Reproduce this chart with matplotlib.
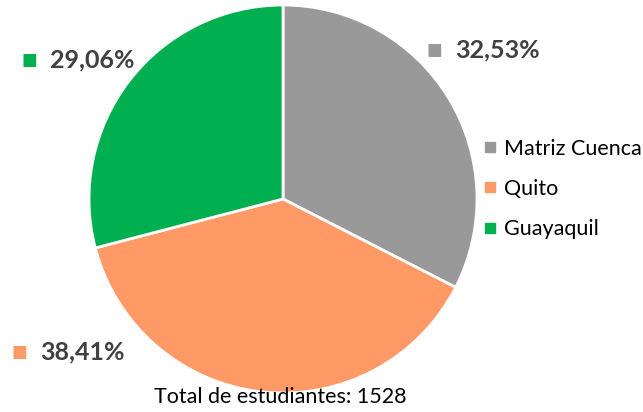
import matplotlib.pyplot as plt
from matplotlib.lines import Line2D

campus = ["Matriz Cuenca", "Quito", "Guayaquil"]
shares = [32.53, 38.41, 29.06]
pct_labels = ["32,53%", "38,41%", "29,06%"]
colors = ["#999999", "#ff9966", "#00b050"]
total = 1528

plt.rcParams['font.family'] = ['Lato', 'DejaVu Sans']

W, H = 643, 412
fig = plt.figure(figsize=(W / 100, H / 100), dpi=100)

# pie: center ~(283,199) px, radius ~194 px
cx, cy, r = 283, 199, 194
ax = fig.add_axes([(cx - r) / W, 1 - (cy + r) / H, 2 * r / W, 2 * r / H])
ax.pie(shares, colors=colors, startangle=90, counterclock=False,
       wedgeprops=dict(edgecolor="white", linewidth=2))
ax.set_xlim(-1, 1)
ax.set_ylim(-1, 1)
ax.set_aspect("equal")

# percentage labels with small colored squares (pixel positions)
lab_pos = [(455, 50), (40, 352), (50, 60)]
for (x, y), txt, c in zip(lab_pos, pct_labels, colors):
    fig.text(x / W, 1 - y / H, txt, fontsize=18, fontweight="bold",
             color="#404040", va="center", ha="left")
    fig.text((x - 21) / W, 1 - y / H, "\u25A0", fontsize=12, color=c,
             va="center", ha="center")

handles = [Line2D([], [], marker="s", linestyle="none", markersize=7.5,
                  markerfacecolor=c, markeredgecolor=c) for c in colors]
fig.legend(handles, campus, loc="center left",
           bbox_to_anchor=(484 / W, 1 - 189 / H), frameon=False,
           fontsize=15.5, labelspacing=0.95, handlelength=0.6,
           handletextpad=0.35, borderaxespad=0, borderpad=0)

fig.text(280 / W, 1 - 397 / H, f"Total de estudiantes: {total}",
         fontsize=15.5, ha="center", va="center", color="#000000")

fig.savefig("out.png", dpi=100)
